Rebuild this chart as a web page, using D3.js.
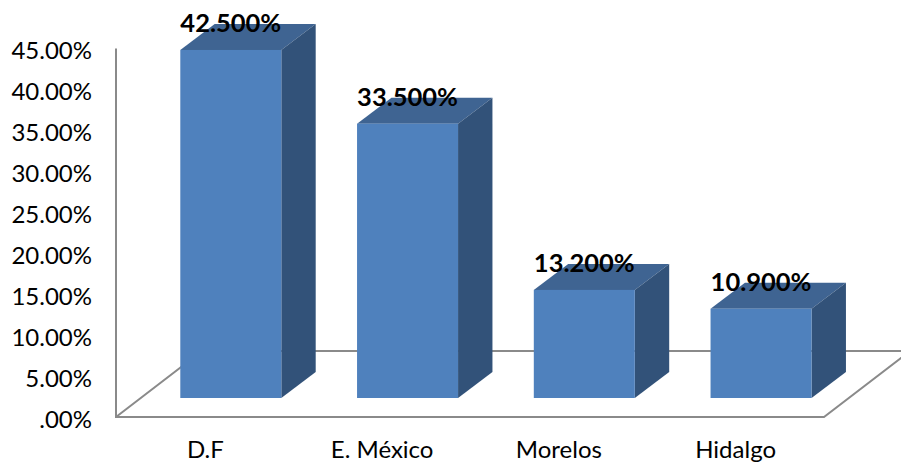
<!DOCTYPE html>
<html>
<head>
<meta charset="utf-8">
<script src="https://cdn.jsdelivr.net/npm/d3@7/dist/d3.min.js"></script>
<style>
  html, body { margin: 0; padding: 0; background: #fff; }
  svg { display: block; }
  text { font-family: Lato, "Open Sans", sans-serif; fill: #000; }
</style>
</head>
<body>
<div id="chart"></div>
<script>
// Valeurs du graphique
const estados = ["D.F", "E. México", "Morelos", "Hidalgo"];
const porcentajes = [42.5, 33.5, 13.2, 10.9];
const ticks = [0, 5, 10, 15, 20, 25, 30, 35, 40, 45];

const width = 901, height = 463;

// Plan avant de l'axe + profondeur du sol et des barres
const left = 116, right = 824, axisBase = 417, axisTop = 48.5;
const floorDx = 86, floorDy = 66;
const barDx = 34.4, barDy = 26;
const barBase = 398, barWidth = 101, barOffset = 64.3;

const svg = d3.select("#chart").append("svg")
    .attr("width", width)
    .attr("height", height);

const x = d3.scaleBand().domain(estados).range([left, right - 1]);
const yAxis = d3.scaleLinear().domain([0, 45]).range([axisBase, axisTop]);
// Meme echelle, decalee sur le plan des barres
const yBar = d3.scaleLinear().domain([0, 45]).range([barBase, barBase - (axisBase - axisTop)]);

// 1 - Sol et mur
const line = d3.line();
const grid = svg.append("g")
    .attr("fill", "none")
    .attr("stroke", "#8a8a8a")
    .attr("stroke-width", 2);

grid.append("path").attr("d", line([
    [left, axisTop],
    [left, axisBase],
    [right, axisBase],
    [right + floorDx, axisBase - floorDy],
    [left + floorDx, axisBase - floorDy],
    [left, axisBase]
]));

// 2 - Axes
const gy = svg.append("g")
    .attr("transform", `translate(${left},0)`)
    .call(d3.axisLeft(yAxis)
        .tickValues(ticks)
        .tickSize(0)
        .tickPadding(24)
        .tickFormat(d => d === 0 ? ".00%" : d3.format(".2f")(d) + "%"));
gy.select(".domain").remove();
gy.selectAll("text")
    .attr("font-size", 24)
    .style("font-family", "Lato, 'Open Sans', sans-serif")
    .attr("dy", "0.42em");

const gx = svg.append("g")
    .attr("transform", `translate(1,${axisBase})`)
    .call(d3.axisBottom(x).tickSize(0).tickPadding(24));
gx.select(".domain").remove();
gx.selectAll("text")
    .attr("font-size", 24)
    .style("font-family", "Lato, 'Open Sans', sans-serif");

// 3 - Barres
const datas = estados.map((e, i) => ({ estado: e, valeur: porcentajes[i] }));

const bars = svg.append("g").selectAll("g")
    .data(datas)
    .enter()
    .append("g");

const x0 = d => x(d.estado) + barOffset;
const x1 = d => x0(d) + barWidth;

bars.append("path") // face de dessus
    .attr("fill", "#3f6492")
    .attr("d", d => line([
        [x0(d), yBar(d.valeur)],
        [x1(d), yBar(d.valeur)],
        [x1(d) + barDx, yBar(d.valeur) - barDy],
        [x0(d) + barDx, yBar(d.valeur) - barDy]
    ]) + "Z");

bars.append("path") // face de droite
    .attr("fill", "#325279")
    .attr("d", d => line([
        [x1(d), yBar(d.valeur)],
        [x1(d) + barDx, yBar(d.valeur) - barDy],
        [x1(d) + barDx, barBase - barDy],
        [x1(d), barBase]
    ]) + "Z");

bars.append("rect") // face avant
    .attr("fill", "#4f81bd")
    .attr("x", x0)
    .attr("y", d => yBar(d.valeur))
    .attr("width", barWidth)
    .attr("height", d => barBase - yBar(d.valeur));

// 4 - Etiquettes
bars.append("text")
    .attr("x", d => x0(d) + barWidth / 2)
    .attr("y", d => yBar(d.valeur) - 18)
    .attr("text-anchor", "middle")
    .attr("font-size", 25.5)
    .attr("font-weight", "bold")
    .text(d => d3.format(".3f")(d.valeur) + "%");
</script>
</body>
</html>
